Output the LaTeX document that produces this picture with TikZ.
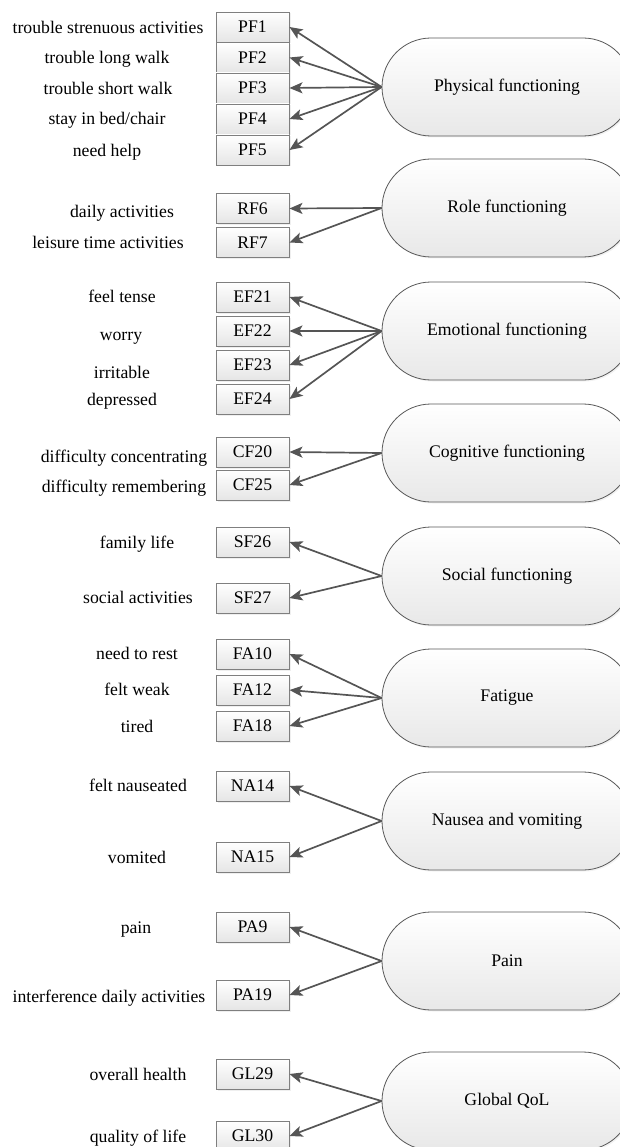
\documentclass[tikz,border=0pt]{standalone}
\usepackage{fontspec}
\setmainfont{Liberation Serif}
\usepackage{xcolor}
\usetikzlibrary{calc}
\usetikzlibrary{arrows.meta}
\usetikzlibrary{shadows}

\definecolor{arrowgrey}{HTML}{555555}
\definecolor{edgegrey}{HTML}{7F7F7F}

\begin{document}
\begin{tikzpicture}[x=1pt, y=-1pt]

\tikzset{
    item/.style = {
    minimum height=30pt,
    minimum width = 73pt
    }
}

\tikzstyle{question}=[draw=edgegrey, line width=0.9pt, top color=white, bottom color=black!10, drop shadow={shadow xshift=1.5pt, shadow yshift=-1.5pt, fill=black!12}, item, font=\fontsize{17.7}{20}\selectfont]
\tikzstyle{factor}=[draw=black!65, line width=0.8pt, top color=white, bottom color=black!9, drop shadow={shadow xshift=1.5pt, shadow yshift=-1.5pt, fill=black!10}, minimum width=250pt, minimum height=98pt, rounded corners=49pt, font=\fontsize{17.7}{20}\selectfont]
\tikzstyle{itemtext}=[font=\fontsize{17.7}{20}\selectfont, text height=1.6ex, text depth=0.4ex, inner sep=0pt, yshift=-3pt]
\tikzstyle{link}=[draw=arrowgrey, line width=1.7pt, -{Stealth[length=13pt, width=11pt, inset=3pt]}]

\useasboundingbox (0,0) rectangle (619,1147);

% Physical functioning
\node (pf1) [question] at (252.5,27) {PF1};
\node (pf2) [question] at (252.5,57.5) {PF2};
\node (pf3) [question] at (252.5,88) {PF3};
\node (pf4) [question] at (252.5,119) {PF4};
\node (pf5) [question] at (252.5,150) {PF5};
\node (t-pf1) [itemtext] at (108,28) {trouble strenuous activities};
\node (t-pf2) [itemtext] at (107,58) {trouble long walk};
\node (t-pf3) [itemtext] at (108,89) {trouble short walk};
\node (t-pf4) [itemtext] at (107,119) {stay in bed/chair};
\node (t-pf5) [itemtext] at (107,151) {need help};
\node (phys) [factor] at (507,87) {Physical functioning};

% Role functioning
\node (rf6) [question] at (252.5,208.5) {RF6};
\node (rf7) [question] at (252.5,242.5) {RF7};
\node (t-rf6) [itemtext] at (122,212) {daily activities};
\node (t-rf7) [itemtext] at (108,243) {leisure time activities};
\node (role) [factor] at (507,208) {Role functioning};

% Emotional functioning
\node (ef21) [question] at (252.5,297) {EF21};
\node (ef22) [question] at (252.5,331) {EF22};
\node (ef23) [question] at (252.5,365) {EF23};
\node (ef24) [question] at (252.5,399) {EF24};
\node (t-ef21) [itemtext] at (122,297) {feel tense};
\node (t-ef22) [itemtext] at (121,335) {worry};
\node (t-ef23) [itemtext] at (122,373) {irritable};
\node (t-ef24) [itemtext] at (122,400) {depressed};
\node (emot) [factor] at (507,331) {Emotional functioning};

% Cognitive functioning
\node (cf20) [question] at (252.5,452) {CF20};
\node (cf25) [question] at (252.5,485) {CF25};
\node (t-cf20) [itemtext] at (124,457) {difficulty concentrating};
\node (t-cf25) [itemtext] at (124,487) {difficulty remembering};
\node (cogn) [factor] at (507,453) {Cognitive functioning};

% Social functioning
\node (sf26) [question] at (252.5,542) {SF26};
\node (sf27) [question] at (252.5,598) {SF27};
\node (t-sf26) [itemtext] at (137,543) {family life};
\node (t-sf27) [itemtext] at (138,598) {social activities};
\node (soci) [factor] at (507,576) {Social functioning};

% Fatigue
\node (fa10) [question] at (252.5,654) {FA10};
\node (fa12) [question] at (252.5,690) {FA12};
\node (fa18) [question] at (252.5,726) {FA18};
\node (t-fa10) [itemtext] at (137,654) {need to rest};
\node (t-fa12) [itemtext] at (137,690) {felt weak};
\node (t-fa18) [itemtext] at (137,727) {tired};
\node (fati) [factor] at (507,698) {Fatigue};

% Nausea and vomiting
\node (na14) [question] at (252.5,786) {NA14};
\node (na15) [question] at (252.5,857) {NA15};
\node (t-na14) [itemtext] at (138,786) {felt nauseated};
\node (t-na15) [itemtext] at (137,858) {vomited};
\node (naus) [factor] at (507,821) {Nausea and vomiting};

% Pain
\node (pa9) [question] at (252.5,927) {PA9};
\node (pa19) [question] at (252.5,995) {PA19};
\node (t-pa9) [itemtext] at (136,928) {pain};
\node (t-pa19) [itemtext] at (109,997) {interference daily activities};
\node (pain) [factor] at (507,961) {Pain};

% Global QoL
\node (gl29) [question] at (252.5,1074) {GL29};
\node (gl30) [question] at (252.5,1136) {GL30};
\node (t-gl29) [itemtext] at (138,1075) {overall health};
\node (t-gl30) [itemtext] at (138,1137) {quality of life};
\node (glob) [factor] at (507,1101) {Global QoL};

\draw [link] (phys.west) -- (pf1.east);
\draw [link] (phys.west) -- (pf2.east);
\draw [link] (phys.west) -- (pf3.east);
\draw [link] (phys.west) -- (pf4.east);
\draw [link] (phys.west) -- (pf5.east);

\draw [link] (role.west) -- (rf6.east);
\draw [link] (role.west) -- (rf7.east);

\draw [link] (emot.west) -- (ef21.east);
\draw [link] (emot.west) -- (ef22.east);
\draw [link] (emot.west) -- (ef23.east);
\draw [link] (emot.west) -- (ef24.east);

\draw [link] (cogn.west) -- (cf20.east);
\draw [link] (cogn.west) -- (cf25.east);

\draw [link] (soci.west) -- (sf26.east);
\draw [link] (soci.west) -- (sf27.east);

\draw [link] (fati.west) -- (fa10.east);
\draw [link] (fati.west) -- (fa12.east);
\draw [link] (fati.west) -- (fa18.east);

\draw [link] (naus.west) -- (na14.east);
\draw [link] (naus.west) -- (na15.east);

\draw [link] (pain.west) -- (pa9.east);
\draw [link] (pain.west) -- (pa19.east);

\draw [link] (glob.west) -- (gl29.east);
\draw [link] (glob.west) -- (gl30.east);

\end{tikzpicture}
\end{document}
